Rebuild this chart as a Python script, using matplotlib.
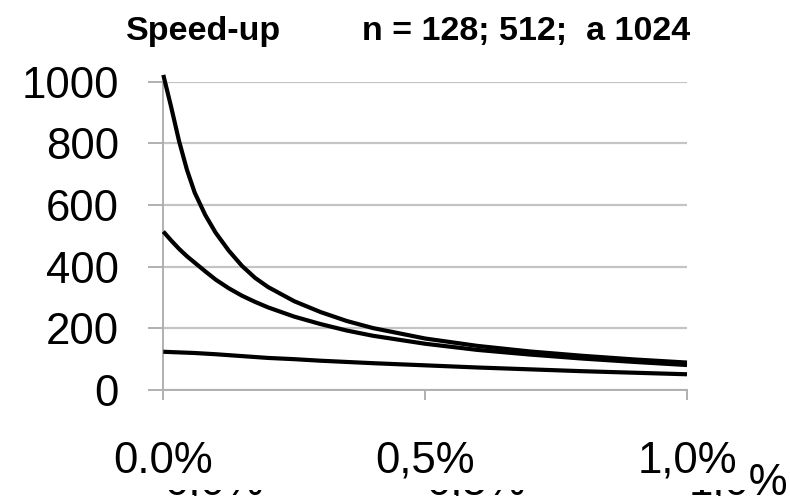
import matplotlib as mpl

mpl.use("Agg")
import matplotlib.pyplot as plt
from matplotlib.patches import Rectangle

plt.rcParams["font.family"] = ["Liberation Sans", "DejaVu Sans"]

# serial fraction in percent, speed-up
fraction = [0.0, 0.015, 0.03, 0.045, 0.06, 0.08, 0.10, 0.125, 0.15, 0.175,
            0.20, 0.25, 0.30, 0.35, 0.40, 0.50, 0.60, 0.70, 0.80, 0.90, 1.00]
speedup_1024 = [1022, 918, 808, 715, 640, 568, 510, 452, 403, 364,
                334, 288, 253, 224, 201, 167, 143, 125, 111, 99, 89]
speedup_512 = [514, 485, 458, 434, 413, 385, 358, 330, 306, 286,
               268, 238, 214, 193, 176, 150, 130, 115, 102, 91, 81]
speedup_128 = [124, 123, 122, 121, 120, 118, 116, 113, 110, 107,
               104, 100, 95, 91, 87, 80, 73, 67, 61, 56, 51]

y_ticks = [0, 200, 400, 600, 800, 1000]
x_ticks = [0.0, 0.5, 1.0]
x_labels = ["0.0%", "0,5%", "1,0%"]
hidden_labels = ["0,0%", "0,5%", "1,0%"]

GRID = "#c4c4c4"
W, H = 790, 496

fig = plt.figure(figsize=(W / 100, H / 100), dpi=100)
ax = fig.add_axes([163.3 / W, 1 - 390 / H, (687 - 163.3) / W, (390 - 81.7) / H])
ax.set_zorder(3)

for ys in (speedup_1024, speedup_512, speedup_128):
    ax.plot(fraction, ys, color="black", lw=3.0, clip_on=False,
            solid_capstyle="butt", solid_joinstyle="round", zorder=3)

ax.set_xlim(0, 1.0)
ax.set_ylim(0, 1000)
ax.set_yticks(y_ticks)
ax.set_yticklabels([str(v) for v in y_ticks])
ax.set_xticks(x_ticks)
ax.set_xticklabels(x_labels)
ax.yaxis.grid(True, color=GRID, lw=1.6)
ax.set_axisbelow(True)

for side in ("top", "right"):
    ax.spines[side].set_visible(False)
for side in ("left", "bottom"):
    ax.spines[side].set_color("#b0b0b0")
    ax.spines[side].set_linewidth(1.4)

ax.tick_params(axis="y", length=11, width=1.4, color="#b0b0b0",
               labelsize=31.5, pad=21)
ax.tick_params(axis="x", length=7.5, width=1.4, color="#b0b0b0",
               labelsize=31.5, pad=29)

# half-covered second row of labels under the visible ones
for xc, lab in zip([214, 476, 738], hidden_labels):
    fig.text(xc / W, 1 - 494 / H, lab, ha="center", va="baseline",
             fontsize=31.5, zorder=1)
fig.add_artist(Rectangle((0, 1 - 489.5 / H), 750 / W, 60 / H,
                         transform=fig.transFigure, facecolor="white",
                         edgecolor="none", zorder=2))

fig.text(126 / W, 1 - 40 / H, "Speed-up", fontsize=24.5, fontweight="bold",
         ha="left", va="baseline")
fig.text(362 / W, 1 - 40 / H, "n = 128; 512;  a 1024", fontsize=24.5,
         fontweight="bold", ha="left", va="baseline")

fig.savefig("out.png", dpi=100, facecolor="white")
